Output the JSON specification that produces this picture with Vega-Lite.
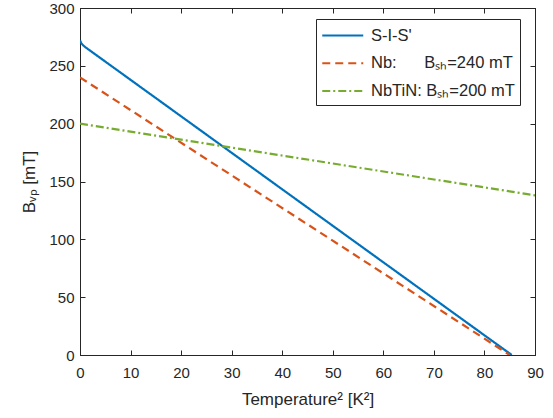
{
  "$schema": "https://vega.github.io/schema/vega-lite/v6.json",
  "autosize": {"type": "none"},
  "width": 455,
  "height": 347,
  "padding": {"left": 80, "top": 8, "right": 18, "bottom": 63},
  "background": "white",
  "config": {
    "font": "Liberation Sans",
    "view": {"stroke": "#262626", "strokeWidth": 1},
    "axis": {"grid": false, "labelFlush": false, "domainColor": "#262626", "tickColor": "#262626", "labelColor": "#262626", "titleColor": "#262626", "labelFontSize": 15, "titleFontSize": 17, "titleFontWeight": "normal", "tickSize": -5}
  },
  "data": {"values": [
    {"series": "S-I-S'", "x": 0, "y": 272},
    {"series": "S-I-S'", "x": 0.25, "y": 269.6},
    {"series": "S-I-S'", "x": 0.6, "y": 267.8},
    {"series": "S-I-S'", "x": 1, "y": 266.3},
    {"series": "S-I-S'", "x": 85.4, "y": 0},
    {"series": "Nb", "x": 0, "y": 240},
    {"series": "Nb", "x": 85, "y": 0},
    {"series": "NbTiN", "x": 0, "y": 200},
    {"series": "NbTiN", "x": 90, "y": 138}
  ]},
  "layer": [
    {
      "mark": {"type": "line", "strokeWidth": 2.2, "clip": true},
      "encoding": {
        "x": {"field": "x", "type": "quantitative", "scale": {"domain": [0, 90], "nice": false}, "axis": {"values": [0,10,20,30,40,50,60,70,80,90], "title": "Temperature² [K²]", "titlePadding": 11, "labelPadding": 15}},
        "y": {"field": "y", "type": "quantitative", "scale": {"domain": [0, 300], "nice": false}, "axis": {"values": [0,50,100,150,200,250,300], "title": "Bᵥₚ [mT]", "titlePadding": 10, "labelPadding": 11}},
        "detail": {"field": "series"},
        "color": {"field": "series", "type": "nominal", "scale": {"domain": ["S-I-S'", "Nb", "NbTiN"], "range": ["#0072BD", "#D95319", "#77AC30"]},
          "legend": {"title": null, "orient": "none", "legendX": 236, "legendY": 11, "strokeColor": "#262626", "fillColor": "white", "padding": 5, "labelFontSize": 16.5, "labelColor": "#262626", "labelLimit": 400, "symbolType": "M-1,0H3", "symbolStrokeWidth": 2.2, "symbolSize": 420, "rowPadding": 7.75, "labelOffset": 27, "labelExpr": "datum.label == 'Nb' ? 'Nb:\u00a0\u00a0\u00a0\u00a0\u00a0\u00a0Bₛₕ=240 mT' : datum.label == 'NbTiN' ? 'NbTiN:\u00a0Bₛₕ=200 mT' : datum.label"}},
        "strokeDash": {"field": "series", "type": "nominal", "scale": {"domain": ["S-I-S'", "Nb", "NbTiN"], "range": [[1, 0], [8, 5], [8, 3, 2, 3]]}, "legend": null}
      }
    },
    {
      "mark": {"type": "line", "opacity": 0},
      "encoding": {
        "x": {"field": "x", "type": "quantitative", "axis": {"orient": "top", "values": [0,10,20,30,40,50,60,70,80,90], "labels": false, "title": null}},
        "y": {"field": "y", "type": "quantitative", "axis": {"orient": "right", "values": [0,50,100,150,200,250,300], "labels": false, "title": null}},
        "detail": {"field": "series"}
      }
    }
  ],
  "resolve": {"axis": {"x": "independent", "y": "independent"}}
}
